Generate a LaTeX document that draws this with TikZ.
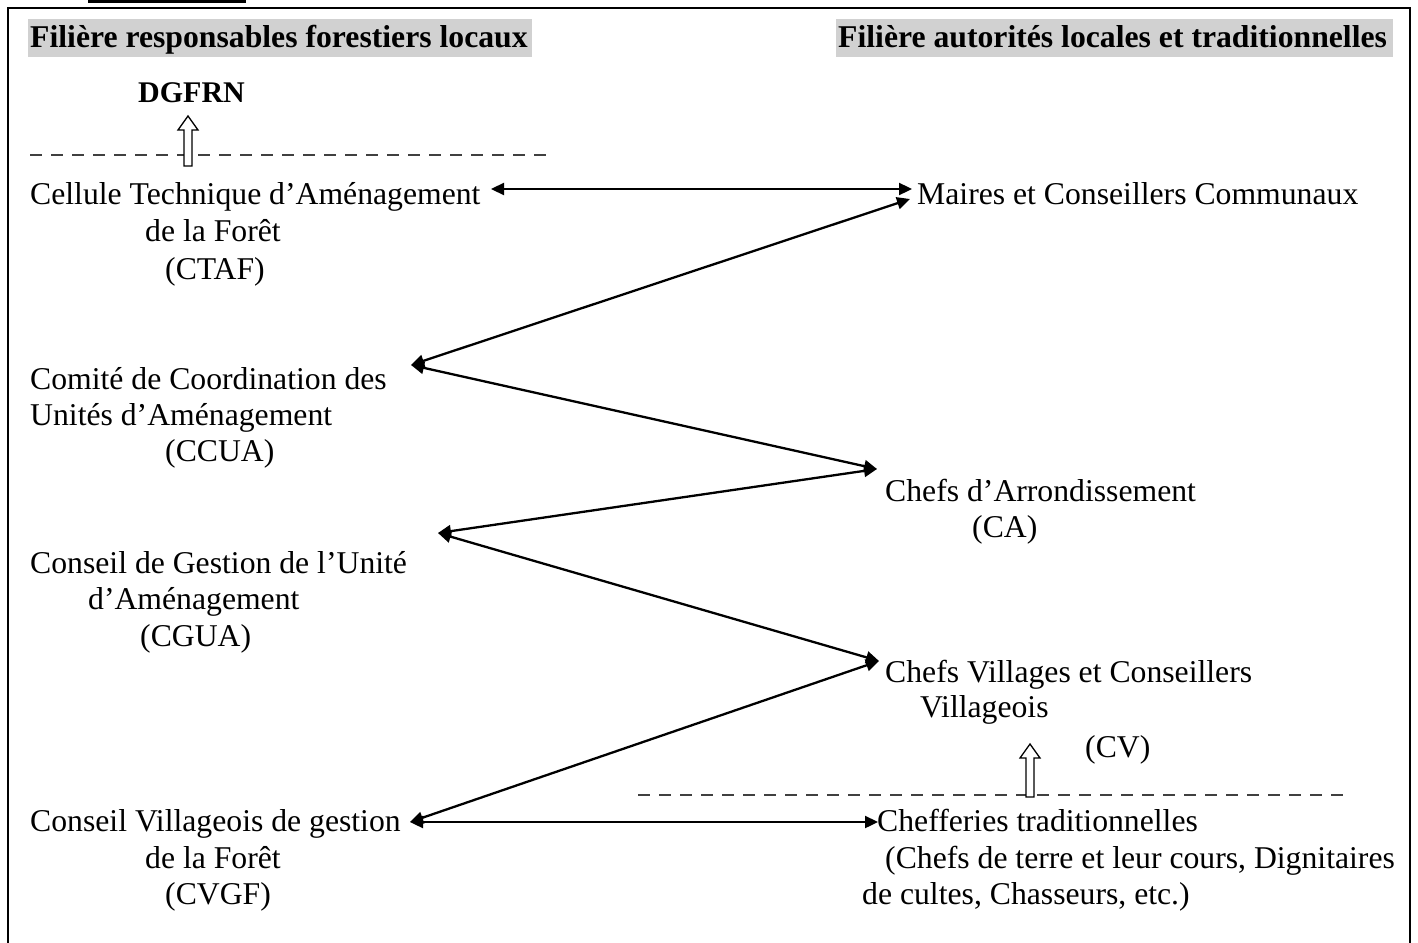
\documentclass[tikz,border=0pt]{standalone}
\usepackage{fontspec}
\setmainfont{Liberation Serif}
\usetikzlibrary{arrows.meta}
\begin{document}
\begin{tikzpicture}[x=1pt,y=-1pt,
  t/.style={anchor=base west, inner sep=0pt, font=\fontsize{31.7}{37}\selectfont},
  hdr/.style={anchor=base west, inner sep=0pt, font=\fontsize{31.7}{37}\selectfont\bfseries},
  link/.style={{Triangle[length=13pt,width=12pt]}-{Triangle[length=13pt,width=12pt]}, line width=2.3pt},
  hollow/.style={draw=black, fill=white, line width=1.3pt, line join=miter},
  sep/.style={draw=black!75, line width=1.6pt, dash pattern=on 12pt off 9pt},
  hdrbg/.style={fill=black!18, draw=none}]
\useasboundingbox (0,0) rectangle (1418,942);
% frame
\draw[line width=2pt] (8,960) -- (8,8) -- (1410,8) -- (1410,960);
% cut-off caption underline
\fill (88,0) rectangle (246,3);
% headers
\fill[hdrbg] (28,19) rectangle (532,57);
\fill[hdrbg] (836,19) rectangle (1393,57);
\node[hdr] (hl) at (30,48) {Filière responsables forestiers locaux};
\node[hdr] (hr) at (838,48) {Filière autorités locales et traditionnelles};
% DGFRN
\node[hdr, font=\fontsize{30}{36}\selectfont\bfseries] (dg) at (138,102) {DGFRN};
\draw[sep] (30,155) -- (550,155);
\draw[hollow] (184,166) -- (184,130) -- (178,130) -- (188,116) -- (198,130) -- (192,130) -- (192,166) -- cycle;
% left column
\node[t]  (ctafA) at (30,204) {Cellule Technique d’Aménagement};
\node[t]  (ctafB) at (145,241) {de la Forêt};
\node[t]  (ctafC) at (165,279) {(CTAF)};
\node[t]  (ccuaA) at (30,389) {Comité de Coordination des};
\node[t]  (ccuaB) at (30,425) {Unités d’Aménagement};
\node[t]  (ccuaC) at (165,461) {(CCUA)};
\node[t]  (cguaA) at (30,573) {Conseil de Gestion de l’Unité};
\node[t]  (cguaB) at (88,609) {d’Aménagement};
\node[t]  (cguaC) at (140,646) {(CGUA)};
\node[t]  (cvgfA) at (30,831) {Conseil Villageois de gestion};
\node[t]  (cvgfB) at (145,868) {de la Forêt};
\node[t]  (cvgfC) at (165,904) {(CVGF)};
% right column
\node[t]  (mcc)   at (917,204) {Maires et Conseillers Communaux};
\node[t]  (caA)   at (885,501) {Chefs d’Arrondissement};
\node[t]  (caB)   at (972,537) {(CA)};
\node[t]  (cvA)   at (885,682) {Chefs Villages et Conseillers};
\node[t]  (cvB)   at (920,717) {Villageois};
\node[t]  (cvC)   at (1085,757) {(CV)};
\node[t]  (chA)   at (877,831) {Chefferies traditionnelles};
\node[t]  (chB)   at (885,868) {(Chefs de terre et leur cours, Dignitaires};
\node[t]  (chC)   at (862,904) {de cultes, Chasseurs, etc.)};
% lower separator and hollow arrow
\draw[sep] (638,795) -- (1350,795);
\draw[hollow] (1026,797) -- (1026,758) -- (1020,758) -- (1030,744) -- (1040,758) -- (1034,758) -- (1034,797) -- cycle;
% connector end points
\coordinate (pCTAF) at (491,189);
\coordinate (pMCCa) at (912,189);
\coordinate (pMCCb) at (910,199);
\coordinate (pCCUA) at (411,365);
\coordinate (pCA)   at (877,469);
\coordinate (pCGUA) at (438,533);
\coordinate (pCV)   at (879,661);
\coordinate (pCVGF) at (410,822);
\coordinate (pCH)   at (878,822);
% connectors
\draw[link] (pCTAF) -- (pMCCa);
\draw[link] (pMCCb) -- (pCCUA);
\draw[link] (pCCUA) -- (pCA);
\draw[link] (pCA) -- (pCGUA);
\draw[link] (pCGUA) -- (pCV);
\draw[link] (pCV) -- (pCVGF);
\draw[link] (pCVGF) -- (pCH);
\end{tikzpicture}
\end{document}
